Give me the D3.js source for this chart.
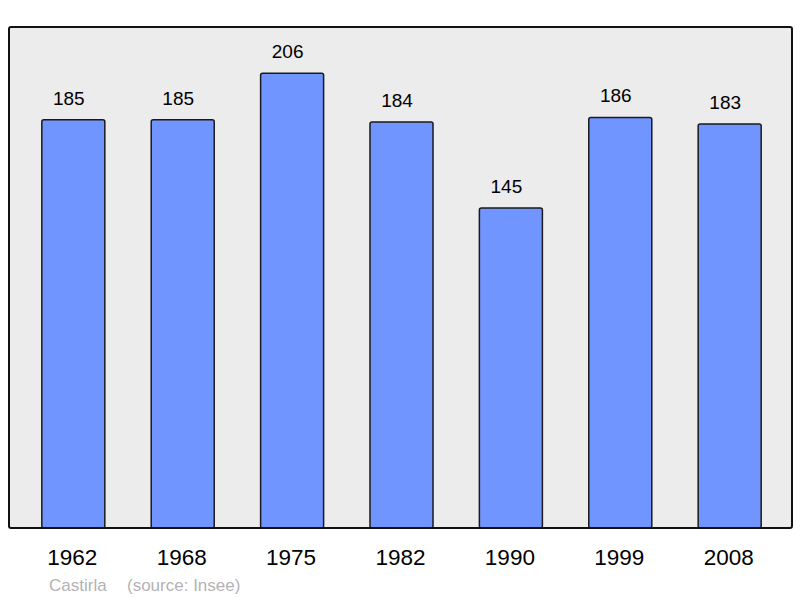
<!DOCTYPE html>
<html>
<head>
<meta charset="utf-8">
<script src="https://cdn.jsdelivr.net/npm/d3@7"></script>
<style>
  body { margin: 0; background: #fff; }
  text { font-family: "Liberation Sans", Arial, sans-serif; }
</style>
</head>
<body>
<div id="chart"></div>
<script>
// Population data
var years = ["1962", "1968", "1975", "1982", "1990", "1999", "2008"];
var population = [185, 185, 206, 184, 145, 186, 183];
var place = "Castirla";
var source = "(source: Insee)";

var svgWidth = 800;
var svgHeight = 598;

// frame of the plot
var frame = { left: 9, top: 27, right: 792, bottom: 528 };

var svg = d3.select("#chart")
  .append("svg")
  .attr("width", svgWidth)
  .attr("height", svgHeight);

// scales
var xScale = d3.scaleBand()
  .domain(years)
  .range([9, 794])
  .paddingInner(0.424)
  .paddingOuter(0.3);

var yScale = d3.scaleLinear()
  .domain([0, 227])
  .range([frame.bottom, frame.top]);

// background box
svg.append("rect")
  .attr("x", frame.left)
  .attr("y", frame.top)
  .attr("width", frame.right - frame.left)
  .attr("height", frame.bottom - frame.top)
  .attr("rx", 2)
  .attr("fill", "#ececec")
  .attr("stroke", "none");

// bars
svg.selectAll(".bar")
  .data(population)
  .enter()
  .append("rect")
  .attr("class", "bar")
  .attr("x", function(d, i) { return xScale(years[i]); })
  .attr("y", function(d) { return yScale(d); })
  .attr("width", xScale.bandwidth())
  .attr("height", function(d) { return yScale(0) - yScale(d); })
  .attr("rx", 2)
  .attr("fill", "#7095ff")
  .attr("stroke", "#1a1a1a")
  .attr("stroke-width", 1.5);

// frame border drawn on top
svg.append("rect")
  .attr("x", frame.left)
  .attr("y", frame.top)
  .attr("width", frame.right - frame.left)
  .attr("height", frame.bottom - frame.top)
  .attr("rx", 2)
  .attr("fill", "none")
  .attr("stroke", "#111")
  .attr("stroke-width", 2);

// value labels (sit a little left of the bar centre)
svg.selectAll(".value")
  .data(population)
  .enter()
  .append("text")
  .attr("class", "value")
  .attr("x", function(d, i) { return xScale(years[i]) + xScale.bandwidth() / 2 - 4.5; })
  .attr("y", function(d) { return yScale(d) - 15; })
  .attr("text-anchor", "middle")
  .attr("font-size", 19)
  .attr("fill", "#000")
  .text(function(d) { return d; });

// year labels
var xAxis = d3.axisBottom(xScale).tickSize(0).tickPadding(0);
var axisGroup = svg.append("g")
  .attr("transform", "translate(-1, 0)")
  .call(xAxis);
axisGroup.select(".domain").remove();
axisGroup.selectAll("text")
  .attr("y", 564.5)
  .attr("dy", null)
  .attr("font-size", 22.5)
  .attr("font-family", "Liberation Sans, Arial, sans-serif")
  .attr("fill", "#000");

// footer
svg.append("text")
  .attr("x", 49)
  .attr("y", 590.5)
  .attr("font-size", 17)
  .attr("fill", "#b3b3b3")
  .text(place);

svg.append("text")
  .attr("x", 127)
  .attr("y", 590.5)
  .attr("font-size", 17)
  .attr("fill", "#b3b3b3")
  .text(source);
</script>
</body>
</html>
